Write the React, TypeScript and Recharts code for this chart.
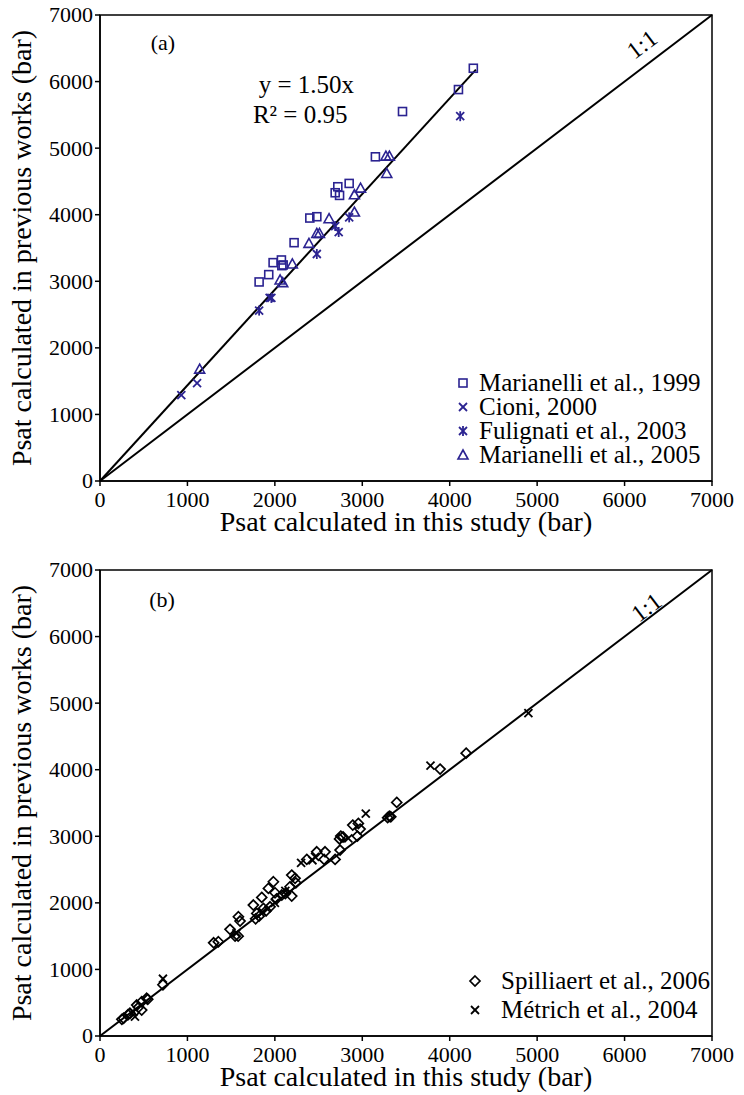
import React from 'react';
import {
  ScatterChart,
  Scatter,
  XAxis,
  YAxis,
  ReferenceLine,
  ReferenceArea,
  ReferenceDot,
  Legend,
} from 'recharts';

const FONT = '"Liberation Serif", "Times New Roman", serif';
const BLUE = '#2b2391';
const BLACK = '#000000';

const axisTicks = [0, 1000, 2000, 3000, 4000, 5000, 6000, 7000];
const xTitle = 'Psat calculated in this study (bar)';
const yTitle = 'Psat calculated in previous works (bar)';

// ---------- Panel (a) ----------
const marianelli1999: [number, number][] = [
  [4270, 6200], [4100, 5880], [3460, 5550], [3150, 4870], [2850, 4470],
  [2720, 4420], [2690, 4330], [2740, 4290], [2400, 3950], [2480, 3970],
  [2220, 3580], [1980, 3280], [2075, 3320], [2080, 3235], [2095, 3245],
  [1930, 3100], [1820, 2990],
];
const cioni2000: [number, number][] = [
  [930, 1290], [1110, 1470], [1940, 2750],
];
const fulignati2003: [number, number][] = [
  [1820, 2560], [1960, 2750], [2480, 3410], [2690, 3830], [2730, 3740],
  [2850, 3960], [4120, 5480],
];
const marianelli2005: [number, number][] = [
  [3270, 4880], [3310, 4880], [3280, 4620], [2980, 4400], [2910, 4300],
  [2910, 4040], [2620, 3940], [2480, 3720], [2510, 3720], [2390, 3570],
  [2200, 3260], [2060, 3020], [2090, 2980], [1140, 1680],
];
const fitLineA = [{ x: 0, y: 0 }, { x: 4300, y: 6180 }];
const oneToOne = [{ x: 0, y: 0 }, { x: 7000, y: 7000 }];

// ---------- Panel (b) ----------
const spilliaert2006: [number, number][] = [
  [250, 250], [270, 266], [320, 320], [343, 341], [420, 465], [440, 430],
  [477, 515], [477, 390], [534, 566], [546, 551], [720, 770],
  [1300, 1400], [1354, 1416], [1487, 1602], [1545, 1502], [1580, 1500],
  [1602, 1727], [1583, 1791], [1754, 1967], [1793, 1842], [1780, 1760],
  [1820, 1800], [1869, 1917], [1850, 2082], [1900, 1880], [1926, 2217],
  [1945, 1941], [1983, 2317], [2002, 2152], [2020, 2060], [2079, 2117],
  [2120, 2140], [2174, 2242], [2193, 2417], [2231, 2368], [2193, 2102],
  [2240, 2300], [2365, 2653], [2479, 2767], [2563, 2653], [2574, 2767],
  [2689, 2653], [2746, 2793], [2754, 3003], [2740, 2960], [2780, 2990],
  [2891, 3168], [2955, 3193], [2944, 3003], [2975, 3108], [3290, 3280],
  [3310, 3300], [3326, 3293], [3394, 3509], [3890, 4009], [4188, 4249],
];
const metrich2004: [number, number][] = [
  [400, 290], [380, 360], [720, 860], [1560, 1540], [1860, 1860],
  [2000, 2000], [2120, 2180], [2300, 2600], [2430, 2640], [2460, 2690],
  [2840, 2970], [3040, 3340], [3780, 4060], [4900, 4850],
];

const toPts = (arr: [number, number][]) => arr.map(([x, y]) => ({ x, y }));

// ---------- marker shapes ----------
const squareShape = (color: string) => (p: any) => (
  <rect x={p.cx - 4} y={p.cy - 4} width={8} height={8} fill="none" stroke={color} strokeWidth={1.6} />
);
const crossShape = (color: string) => (p: any) => (
  <g stroke={color} strokeWidth={1.8}>
    <line x1={p.cx - 4} y1={p.cy - 4} x2={p.cx + 4} y2={p.cy + 4} />
    <line x1={p.cx - 4} y1={p.cy + 4} x2={p.cx + 4} y2={p.cy - 4} />
  </g>
);
const starShape = (color: string) => (p: any) => (
  <g stroke={color} strokeWidth={1.8}>
    <line x1={p.cx - 4} y1={p.cy - 4} x2={p.cx + 4} y2={p.cy + 4} />
    <line x1={p.cx - 4} y1={p.cy + 4} x2={p.cx + 4} y2={p.cy - 4} />
    <line x1={p.cx} y1={p.cy - 5} x2={p.cx} y2={p.cy + 5} />
  </g>
);
const triangleShape = (color: string) => (p: any) => (
  <polygon
    points={`${p.cx},${p.cy - 5} ${p.cx - 5},${p.cy + 4} ${p.cx + 5},${p.cy + 4}`}
    fill="none"
    stroke={color}
    strokeWidth={1.6}
  />
);
const diamondShape = (color: string) => (p: any) => (
  <polygon
    points={`${p.cx},${p.cy - 5} ${p.cx + 5},${p.cy} ${p.cx},${p.cy + 5} ${p.cx - 5},${p.cy}`}
    fill="none"
    stroke={color}
    strokeWidth={1.7}
  />
);

const textLabel = (text: string, size: number, angle = 0) => (props: any) => {
  const vb = props.viewBox || { x: 0, y: 0, width: 0, height: 0 };
  const x = vb.x + (vb.width || 0) / 2;
  const y = vb.y + (vb.height || 0) / 2;
  return (
    <text
      x={x}
      y={y}
      fontFamily={FONT}
      fontSize={size}
      fill="#000"
      textAnchor="middle"
      dominantBaseline="central"
      transform={angle ? `rotate(${angle} ${x} ${y})` : undefined}
    >
      {text}
    </text>
  );
};

const xTitleLabel = (props: any) => {
  const vb = props.viewBox;
  return (
    <text x={vb.x + vb.width / 2} y={vb.y + 50} fontFamily={FONT} fontSize={28} textAnchor="middle" fill="#000">
      {xTitle}
    </text>
  );
};
const makeYTitle = (cy: number) => () => {
  const x = 31;
  return (
    <text x={x} y={cy} fontFamily={FONT} fontSize={28} textAnchor="middle" fill="#000" transform={`rotate(-90 ${x} ${cy})`}>
      {yTitle}
    </text>
  );
};

const XTick = (p: any) => (
  <text x={p.x} y={p.y} dy="0.71em" textAnchor="middle" fontFamily={FONT} fontSize={22} fill="#000">
    {p.payload.value}
  </text>
);
const YTick = (p: any) => (
  <text x={p.x} y={p.y} dy="0.34em" textAnchor="end" fontFamily={FONT} fontSize={22} fill="#000">
    {p.payload.value}
  </text>
);

type LegendItem = { name: string; shape: (p: any) => React.ReactNode };

const makeLegend = (items: LegendItem[], rowH: number, symX: number, gap: number) => () => (
  <div style={{ fontFamily: FONT, fontSize: 25, color: '#000' }}>
    {items.map((it) => (
      <div key={it.name} style={{ display: 'flex', alignItems: 'center', height: rowH, whiteSpace: 'nowrap' }}>
        <svg width={gap} height={14} style={{ flex: 'none' }}>
          {it.shape({ cx: symX, cy: 7 })}
        </svg>
        <span style={{ lineHeight: `${rowH}px` }}>{it.name}</span>
      </div>
    ))}
  </div>
);

const legendA: LegendItem[] = [
  { name: 'Marianelli et al., 1999', shape: squareShape(BLUE) },
  { name: 'Cioni, 2000', shape: crossShape(BLUE) },
  { name: 'Fulignati et al., 2003', shape: starShape(BLUE) },
  { name: 'Marianelli et al., 2005', shape: triangleShape(BLUE) },
];
const legendB: LegendItem[] = [
  { name: 'Spilliaert et al., 2006', shape: diamondShape(BLACK) },
  { name: 'Métrich et al., 2004', shape: crossShape(BLACK) },
];

const axes = (yCenter: number) => [
  <XAxis
    key="x"
    type="number"
    dataKey="x"
    domain={[0, 7000]}
    ticks={axisTicks}
    allowDataOverflow
    height={50}
    tick={XTick}
    tickSize={5}
    tickMargin={5}
    axisLine={{ stroke: '#000', strokeWidth: 1.5 }}
    tickLine={{ stroke: '#000', strokeWidth: 1.5 }}
    label={{ content: xTitleLabel }}
  />,
  <YAxis
    key="y"
    type="number"
    dataKey="y"
    domain={[0, 7000]}
    ticks={axisTicks}
    allowDataOverflow
    width={100}
    tick={YTick}
    tickSize={5}
    tickMargin={2}
    axisLine={{ stroke: '#000', strokeWidth: 1.5 }}
    tickLine={{ stroke: '#000', strokeWidth: 1.5 }}
    label={{ content: makeYTitle(yCenter) }}
  />,
];

export default function App() {
  return (
    <div style={{ position: 'absolute', left: 0, top: 0, width: 744, height: 1095, background: '#fff' }}>
      <div style={{ position: 'absolute', left: 0, top: 0 }}>
        <ScatterChart width={744} height={545} margin={{ top: 15, right: 32, bottom: 14, left: 0 }}>
          {axes(248)}
          <ReferenceArea x1={0} x2={7000} y1={0} y2={7000} fill="none" stroke="#000" strokeWidth={1.5} fillOpacity={0} />
          <ReferenceLine segment={oneToOne} stroke="#000" strokeWidth={2} />
          <ReferenceLine segment={fitLineA} stroke="#000" strokeWidth={2} />
          <ReferenceDot x={720} y={6580} r={1} fill="none" stroke="none" label={{ content: textLabel('(a)', 22) }} />
          <ReferenceDot x={2360} y={5950} r={1} fill="none" stroke="none" label={{ content: textLabel('y = 1.50x', 25) }} />
          <ReferenceDot x={2290} y={5510} r={1} fill="none" stroke="none" label={{ content: textLabel('R² = 0.95', 25) }} />
          <ReferenceDot x={6200} y={6560} r={1} fill="none" stroke="none" label={{ content: textLabel('1:1', 24, -37) }} />
          <Scatter name="Marianelli et al., 1999" data={toPts(marianelli1999)} shape={squareShape(BLUE)} isAnimationActive={false} />
          <Scatter name="Cioni, 2000" data={toPts(cioni2000)} shape={crossShape(BLUE)} isAnimationActive={false} />
          <Scatter name="Fulignati et al., 2003" data={toPts(fulignati2003)} shape={starShape(BLUE)} isAnimationActive={false} />
          <Scatter name="Marianelli et al., 2005" data={toPts(marianelli2005)} shape={triangleShape(BLUE)} isAnimationActive={false} />
          <Legend
            layout="vertical"
            align="center"
            verticalAlign="middle"
            content={makeLegend(legendA, 24, 8, 24)}
            wrapperStyle={{ left: 455, top: 371, width: 270, bottom: 'auto', right: 'auto' }}
          />
        </ScatterChart>
      </div>
      <div style={{ position: 'absolute', left: 0, top: 545 }}>
        <ScatterChart width={744} height={550} margin={{ top: 25, right: 32, bottom: 9, left: 0 }}>
          {axes(258)}
          <ReferenceArea x1={0} x2={7000} y1={0} y2={7000} fill="none" stroke="#000" strokeWidth={1.5} fillOpacity={0} />
          <ReferenceLine segment={oneToOne} stroke="#000" strokeWidth={2} />
          <ReferenceDot x={710} y={6550} r={1} fill="none" stroke="none" label={{ content: textLabel('(b)', 22) }} />
          <ReferenceDot x={6250} y={6440} r={1} fill="none" stroke="none" label={{ content: textLabel('1:1', 24, -37) }} />
          <Scatter name="Spilliaert et al., 2006" data={toPts(spilliaert2006)} shape={diamondShape(BLACK)} isAnimationActive={false} />
          <Scatter name="Métrich et al., 2004" data={toPts(metrich2004)} shape={crossShape(BLACK)} isAnimationActive={false} />
          <Legend
            layout="vertical"
            align="center"
            verticalAlign="middle"
            content={makeLegend(legendB, 29, 8, 34)}
            wrapperStyle={{ left: 467, top: 421, width: 270, bottom: 'auto', right: 'auto' }}
          />
        </ScatterChart>
      </div>
    </div>
  );
}
